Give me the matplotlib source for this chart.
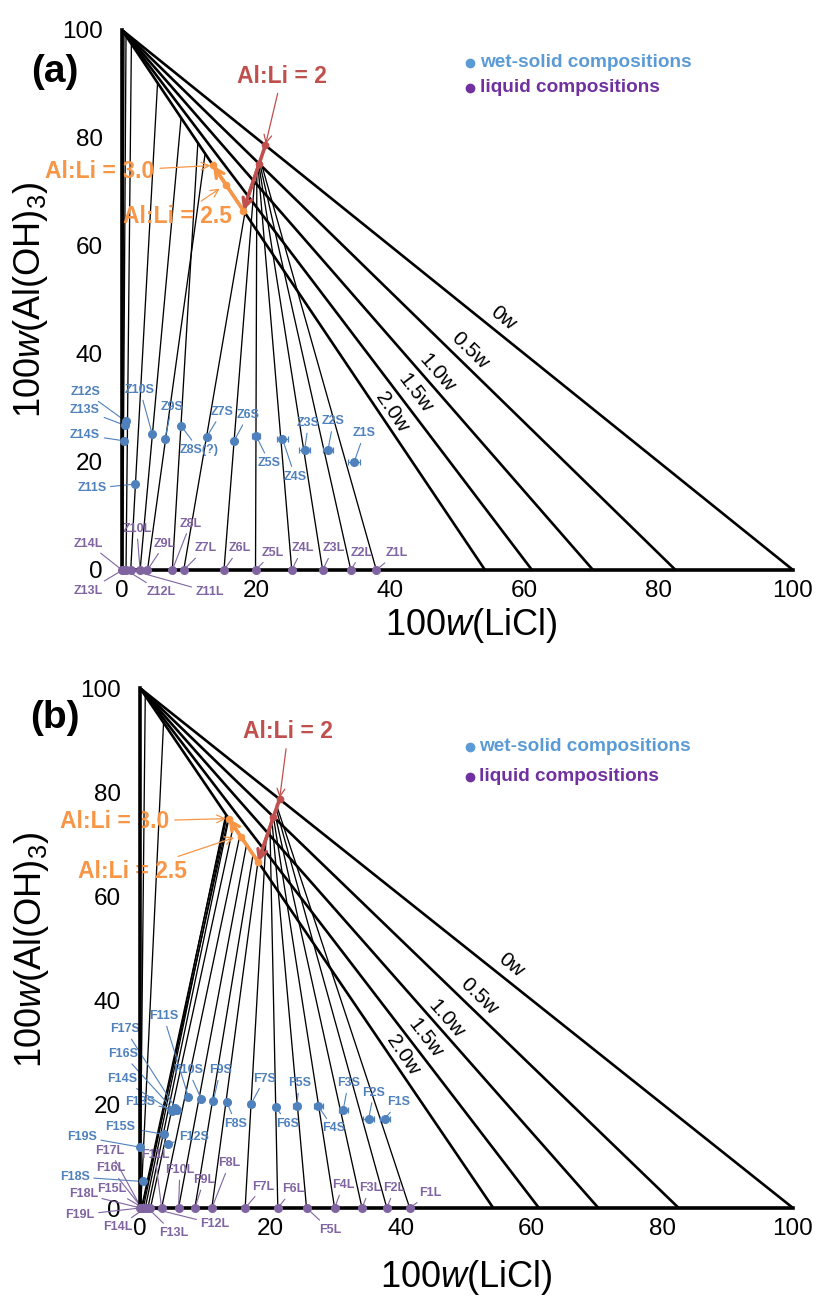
import numpy as np
import matplotlib
matplotlib.use("Agg")
import matplotlib.pyplot as plt

plt.rcParams['font.family'] = ['Liberation Sans', 'DejaVu Sans']
plt.rcParams['mathtext.fontset'] = 'custom'
plt.rcParams['mathtext.rm'] = 'Liberation Sans'
plt.rcParams['mathtext.it'] = 'Liberation Sans:italic'

# ---------------- data ----------------
w_labels = ['0w', '0.5w', '1.0w', '1.5w', '2.0w']
w_licl = [100.0, 82.5, 70.2, 61.1, 54.1]
w_lab_x = [56.8, 51.9, 46.9, 43.7, 40.2]
w_lab_y = [46.7, 40.7, 36.4, 32.7, 29.3]

red_x = [21.37, 20.44, 18.08]      # Al:Li = 2 (0w -> 2w)
red_y = [78.63, 75.22, 66.55]
orange_x = [18.08, 15.50, 13.57]   # Al:Li = 2 -> 2.5 -> 3.0 along 2.0w
orange_y = [66.55, 71.32, 74.90]

# panel (a)
z_L_x = [37.9, 34.1, 29.9, 25.3, 19.9, 15.2, 9.2, 7.5, 3.8, 2.7, 1.3, 0.6, 0.1, 0.0]
z_S_x = [34.6, 30.7, 27.2, 23.9, 20.0, 16.7, 12.6, 8.8, 6.4, 4.5, 1.9, 0.6, 0.4, 0.35]
z_S_y = [20.0, 22.3, 22.2, 24.3, 24.8, 23.9, 24.6, 26.7, 24.2, 25.2, 15.9, 27.5, 26.8, 23.9]
z_S_xerr = [0.9, 0.8, 0.8, 0.8, 0.6, 0.3, 0, 0, 0, 0, 0, 0, 0, 0]
z_top_x = [20.6, 20.5, 20.4, 20.3, 20.1, 19.8, 18.7, 11.3, 12.4, 8.8, 5.3, 1.4, 0.6, 0.3]
z_top_y = [76.0, 75.5, 75.0, 74.5, 74.0, 72.8, 68.9, 79.0, 77.2, 83.6, 90.2, 97.4, 98.9, 99.4]
z_S_names = ['Z1S', 'Z2S', 'Z3S', 'Z4S', 'Z5S', 'Z6S', 'Z7S', 'Z8S(?)', 'Z9S', 'Z10S',
             'Z11S', 'Z12S', 'Z13S', 'Z14S']
z_L_names = ['Z1L', 'Z2L', 'Z3L', 'Z4L', 'Z5L', 'Z6L', 'Z7L', 'Z8L', 'Z9L', 'Z10L',
             'Z11L', 'Z12L', 'Z13L', 'Z14L']
z_S_lab_x = [36.1, 31.5, 27.8, 25.8, 22.0, 18.8, 14.9, 11.5, 7.4, 2.7, -4.5, -5.5, -5.5, -5.5]
z_S_lab_y = [25.3, 27.5, 27.2, 17.3, 19.8, 28.7, 29.3, 22.2, 30.2, 33.3, 15.1, 33.0, 29.6, 25.0]
z_L_lab_x = [40.9, 35.7, 31.5, 26.9, 22.5, 17.5, 12.4, 10.2, 6.4, 2.2, 13.1, 5.9, -5.0, -5.0]
z_L_lab_y = [3.1, 3.2, 4.0, 4.0, 3.2, 4.0, 4.0, 8.6, 4.9, 7.6, -4.1, -4.1, -3.8, 4.9]

# panel (b)
f_L_x = [41.3, 37.8, 34.0, 29.8, 25.5, 21.1, 16.1, 11.0, 8.4, 5.9, 3.3, 1.6, 1.2, 0.8,
         0.5, 0.3, 0.2, 0.1, 0.0]
f_S_x = [37.5, 35.0, 31.1, 27.3, 24.0, 20.8, 17.0, 13.3, 11.2, 9.4, 7.4, 4.3, 5.6, 4.9,
         3.6, 5.1, 5.4, 0.45, 0.0]
f_S_y = [17.2, 17.1, 18.8, 19.6, 19.6, 19.4, 20.0, 20.3, 20.5, 20.9, 21.4, 12.4, 18.9, 18.6,
         14.2, 18.9, 19.3, 5.1, 11.7]
f_S_xerr = [0.8, 0.8, 0.7, 0.7, 0.5, 0.5, 0.4, 0, 0, 0, 0, 0, 0, 0, 0, 0, 0, 0, 0]
f_top_x = [20.9, 20.8, 20.6, 20.4, 20.2, 19.9, 19.3, 18.1, 17.3, 16.3, 15.3, 14.3, 13.6, 13.3,
           13.1, 13.5, 13.2, 3.6, 0.8]
f_top_y = [77.5, 77.0, 76.2, 75.5, 74.5, 73.2, 71.0, 67.0, 67.9, 69.8, 71.7, 73.5, 74.8, 75.3,
           75.5, 75.0, 75.4, 93.3, 98.5]
f_S_names = ['F%dS' % i for i in range(1, 20)]
f_L_names = ['F%dL' % i for i in range(1, 20)]
f_S_lab_x = [39.6, 35.8, 31.9, 29.6, 24.4, 22.6, 19.1, 14.7, 12.3, 7.4, 3.6, 8.2, 0.0, -2.8,
             -3.0, -2.6, -2.3, -10.0, -8.9]
f_S_lab_y = [20.3, 22.2, 24.0, 15.3, 24.0, 16.2, 24.9, 16.2, 26.5, 26.5, 36.9, 13.6, 20.3, 24.8,
             15.6, 29.6, 34.4, 6.0, 13.7]
f_L_lab_x = [44.4, 39.0, 35.2, 31.1, 29.1, 23.4, 18.9, 13.7, 9.8, 6.1, 2.3, 11.5, 5.1, -3.4,
             -4.4, -4.5, -4.6, -8.7, -9.2]
f_L_lab_y = [2.9, 3.8, 3.8, 4.4, -4.2, 3.6, 4.1, 8.6, 5.4, 7.3, 10.2, -3.1, -4.8, -3.7,
             3.6, 7.6, 11.0, 2.7, -1.3]

ticks = [0, 20, 40, 60, 80, 100]

C_S = '#4F81BD'
C_L = '#8064A2'
C_RED = '#C0504D'
C_OR = '#F79646'
C_LEG_S = '#5B9BD5'
C_LEG_L = '#7030A0'


def draw_panel(ax, L_x, S_x, S_y, S_xerr, top_x, top_y, S_names, L_names,
               S_lx, S_ly, L_lx, L_ly, ann, leg, ylab_pos, xlab_pos):
    ax.set_xlim(0, 100)
    ax.set_ylim(0, 100)
    for s in ['top', 'right']:
        ax.spines[s].set_visible(False)
    for s in ['left', 'bottom']:
        ax.spines[s].set_linewidth(2.6)
        ax.spines[s].set_zorder(5)
    ax.set_xticks(ticks)
    ax.set_yticks(ticks)
    ax.tick_params(length=0, labelsize=17.5)
    ax.tick_params(axis='x', pad=7)
    ax.tick_params(axis='y', pad=14)
    ax.set_xlabel(r'100$\it{w}$(LiCl)', fontsize=26)
    ax.set_ylabel(r'100$\it{w}$(Al(OH)$_3$)', fontsize=26)
    ax.yaxis.set_label_coords(*ylab_pos)
    ax.xaxis.set_label_coords(*xlab_pos)

    # water-content lines from the Al(OH)3 apex
    for lab, wx, lx, ly in zip(w_labels, w_licl, w_lab_x, w_lab_y):
        ax.plot([0, wx], [100, 0], color='black', lw=1.9, solid_capstyle='round', zorder=3)
        ang = np.degrees(np.arctan2(-100.0, wx))
        ax.text(lx, ly, lab, fontsize=15, rotation=ang, rotation_mode='anchor',
                transform_rotates_text=True, ha='center', va='center')

    # tie lines
    for lx0, tx, ty in zip(L_x, top_x, top_y):
        ax.plot([lx0, tx], [0, ty], color='black', lw=0.95, zorder=2)

    # Al:Li lines
    ax.plot(red_x, red_y, color=C_RED, lw=2.6, zorder=4)
    ax.annotate('', xy=(red_x[-1], red_y[-1]), xytext=(red_x[1], red_y[1]),
                arrowprops=dict(arrowstyle='->', color=C_RED, lw=2.4, mutation_scale=16,
                                shrinkA=0, shrinkB=0), zorder=4)
    ax.plot(red_x[:2], red_y[:2], 'o', color=C_RED, ms=4.5, zorder=4)
    ax.plot(orange_x, orange_y, color=C_OR, lw=2.6, zorder=4)
    ax.annotate('', xy=(orange_x[-1], orange_y[-1]), xytext=(orange_x[1], orange_y[1]),
                arrowprops=dict(arrowstyle='->', color=C_OR, lw=2.4, mutation_scale=16,
                                shrinkA=0, shrinkB=0), zorder=4)
    ax.plot(orange_x, orange_y, 'o', color=C_OR, ms=4.5, zorder=4)

    # annotations of Al:Li
    (t2, a2), (t3, a3), (t25, a25) = ann
    ax.annotate('Al:Li = 2', xy=a2, xytext=t2, color=C_RED, fontsize=16.5, fontweight='bold',
                ha='center', va='center', annotation_clip=False,
                arrowprops=dict(arrowstyle='->', color=C_RED, lw=0.9, shrinkA=2, shrinkB=1,
                                mutation_scale=14))
    ax.annotate('Al:Li = 3.0', xy=a3, xytext=t3, color=C_OR, fontsize=16.5, fontweight='bold',
                ha='center', va='center', annotation_clip=False,
                arrowprops=dict(arrowstyle='->', color=C_OR, lw=0.9, shrinkA=2, shrinkB=2,
                                mutation_scale=14))
    ax.annotate('Al:Li = 2.5', xy=a25, xytext=t25, color=C_OR, fontsize=16.5, fontweight='bold',
                ha='center', va='center', annotation_clip=False,
                arrowprops=dict(arrowstyle='->', color=C_OR, lw=0.9, shrinkA=2, shrinkB=2,
                                mutation_scale=14))

    # data points
    ax.errorbar(S_x, S_y, xerr=S_xerr, fmt='o', color=C_S, ms=5.5, elinewidth=0.9,
                capsize=2.5, capthick=0.9, zorder=6, clip_on=False)
    ax.plot(L_x, [0] * len(L_x), 'o', color=C_L, ms=5.5, zorder=6, clip_on=False)

    for name, px, py, tx, ty in zip(S_names, S_x, S_y, S_lx, S_ly):
        ax.annotate(name, xy=(px, py), xytext=(tx, ty), color=C_S, fontsize=9,
                    fontweight='bold', ha='center', va='center', annotation_clip=False,
                    arrowprops=dict(arrowstyle='-', color=C_S, lw=0.8, shrinkA=1, shrinkB=2))
    for name, px, tx, ty in zip(L_names, L_x, L_lx, L_ly):
        ax.annotate(name, xy=(px, 0), xytext=(tx, ty), color=C_L, fontsize=9,
                    fontweight='bold', ha='center', va='center', annotation_clip=False,
                    arrowprops=dict(arrowstyle='-', color=C_L, lw=0.8, shrinkA=1, shrinkB=2))

    # legend
    (lx, ly1, ly2) = leg
    ax.plot([lx], [ly1], 'o', color=C_LEG_S, ms=6, clip_on=False)
    ax.plot([lx], [ly2], 'o', color=C_LEG_L, ms=6, clip_on=False)
    ax.text(lx + 1.4, ly1, 'wet-solid compositions', color=C_LEG_S, fontsize=13.7,
            fontweight='bold', va='center', ha='left')
    ax.text(lx + 1.4, ly2, 'liquid compositions', color=C_LEG_L, fontsize=13.7,
            fontweight='bold', va='center', ha='left')


fig = plt.figure(figsize=(8.16, 12.96), dpi=100)
axA = fig.add_axes([0.1495, 0.5602, 0.8223, 0.4167])
axB = fig.add_axes([0.1716, 0.0679, 0.8002, 0.4012])

annA = [((23.8, 91.4), (red_x[0], red_y[0])),
        ((-3.3, 73.8), (orange_x[2], orange_y[2])),
        ((8.3, 65.4), (14.9, 70.9))]
annB = [((22.7, 91.6), (red_x[0], red_y[0])),
        ((-3.9, 74.3), (orange_x[2], orange_y[2])),
        ((-1.1, 64.7), (14.8, 71.4))]

draw_panel(axA, z_L_x, z_S_x, z_S_y, z_S_xerr, z_top_x, z_top_y, z_S_names, z_L_names,
           z_S_lab_x, z_S_lab_y, z_L_lab_x, z_L_lab_y, annA, (51.9, 93.9, 89.3),
           (-0.107, 0.5), (0.52, -0.066))
draw_panel(axB, f_L_x, f_S_x, f_S_y, f_S_xerr, f_top_x, f_top_y, f_S_names, f_L_names,
           f_S_lab_x, f_S_lab_y, f_L_lab_x, f_L_lab_y, annB, (50.5, 88.7, 82.9),
           (-0.137, 0.496), (0.5, -0.097))

fig.text(55 / 816, 1 - 72 / 1296, '(a)', fontsize=28, fontweight='bold', ha='center', va='center')
fig.text(55 / 816, 1 - 718 / 1296, '(b)', fontsize=28, fontweight='bold', ha='center', va='center')

fig.savefig('out.png', dpi=100)
